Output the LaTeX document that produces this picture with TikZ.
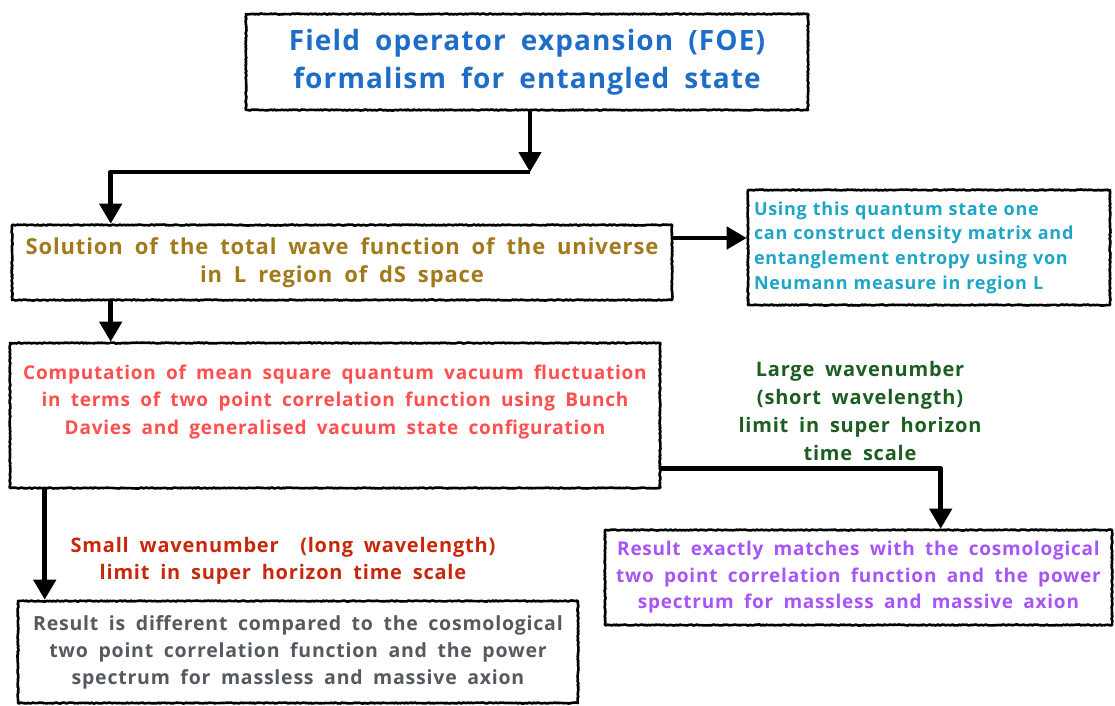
\documentclass[tikz,border=0pt]{standalone}
\usepackage{fontspec}
\setmainfont{Open Sans}[LetterSpace=4, WordSpace=1.8]
\usetikzlibrary{arrows.meta,decorations.pathmorphing}
\definecolor{foeblue}{HTML}{1E6EC8}
\definecolor{wavegold}{HTML}{A27A1C}
\definecolor{denscyan}{HTML}{1EA5C8}
\definecolor{compred}{HTML}{FF4F4F}
\definecolor{largegreen}{HTML}{1B5E20}
\definecolor{smallred}{HTML}{C8280A}
\definecolor{matchpurple}{HTML}{A855F7}
\definecolor{diffgray}{HTML}{555A60}
\begin{document}
\begin{tikzpicture}[x=1pt, y=-1pt, font=\bfseries, line join=round, >={Triangle[length=20pt,width=22pt]},
	sketch/.style={draw, line width=2.6pt, fill=white, inner sep=0pt, align=center,
		decorate, decoration={random steps, segment length=1.5pt, amplitude=.5pt}},
	arr/.style={->, line width=4.5pt}]
	\useasboundingbox (0,0) rectangle (1115,705);
	% boxes
	\node[sketch, minimum width=562, minimum height=96, text=foeblue, font=\bfseries\fontsize{28}{38}\selectfont] (foe) at (527,62)
		{Field operator expansion (FOE)\\formalism for entangled state};
	\node[sketch, minimum width=660, minimum height=75, text=wavegold, font=\bfseries\fontsize{22}{28}\selectfont] (wave) at (342,262.5)
		{Solution of the total wave function of the universe\\in L region of dS space};
	\node[sketch, minimum width=362, minimum height=115, text=denscyan, align=left, text width=350, font=\bfseries\fontsize{18}{24.7}\selectfont] (dens) at (929,247.5)
		{Using this quantum state one\\can construct density matrix and\\entanglement entropy using von\\Neumann measure in region L};
	\node[sketch, minimum width=650, minimum height=145, text=compred, font=\bfseries\fontsize{19}{27.5}\selectfont] (comp) at (335,415.5)
		{Computation of mean square quantum vacuum fluctuation\\in terms of two point correlation function using Bunch\\Davies and generalised vacuum state configuration\\\rule{0pt}{26pt}};
	\node[sketch, minimum width=507, minimum height=95, text=matchpurple, font=\bfseries\fontsize{19}{26.5}\selectfont] (match) at (858.5,577.5)
		{Result exactly matches with the cosmological\\two point correlation function and the power\\spectrum for massless and massive axion};
	\node[sketch, minimum width=560, minimum height=102, text=diffgray, font=\bfseries\fontsize{19.5}{27}\selectfont] (diff) at (298,652)
		{Result is different compared to the cosmological\\two point correlation function and the power\\spectrum for massless and massive axion};
	% limit labels
	\node[align=center, text=largegreen, font=\bfseries\fontsize{20}{28}\selectfont] (large) at (860,411)
		{Large wavenumber\\(short wavelength)\\limit in super horizon\\time scale};
	\node[align=center, text=smallred, font=\bfseries\fontsize{20}{27}\selectfont] (small) at (283,561)
		{Small wavenumber~~(long wavelength)\\limit in super horizon time scale};
	% connectors
	\coordinate (split) at (530,172);
	\draw[arr] ([xshift=3]foe.south) -- (split);
	\draw[arr] (split) -| ([xshift=100]wave.north west);
	\draw[arr] ([yshift=24.5]wave.east) -- ([yshift=9.5]dens.west);
	\draw[arr] ([xshift=100]wave.south west) -- ([xshift=102]comp.north west);
	\draw[arr] ([xshift=36]comp.south west) -- ([xshift=28]diff.north west);
	\draw[arr] ([yshift=21]comp.south east) -| ([xshift=337]match.north west);
\end{tikzpicture}
\end{document}
